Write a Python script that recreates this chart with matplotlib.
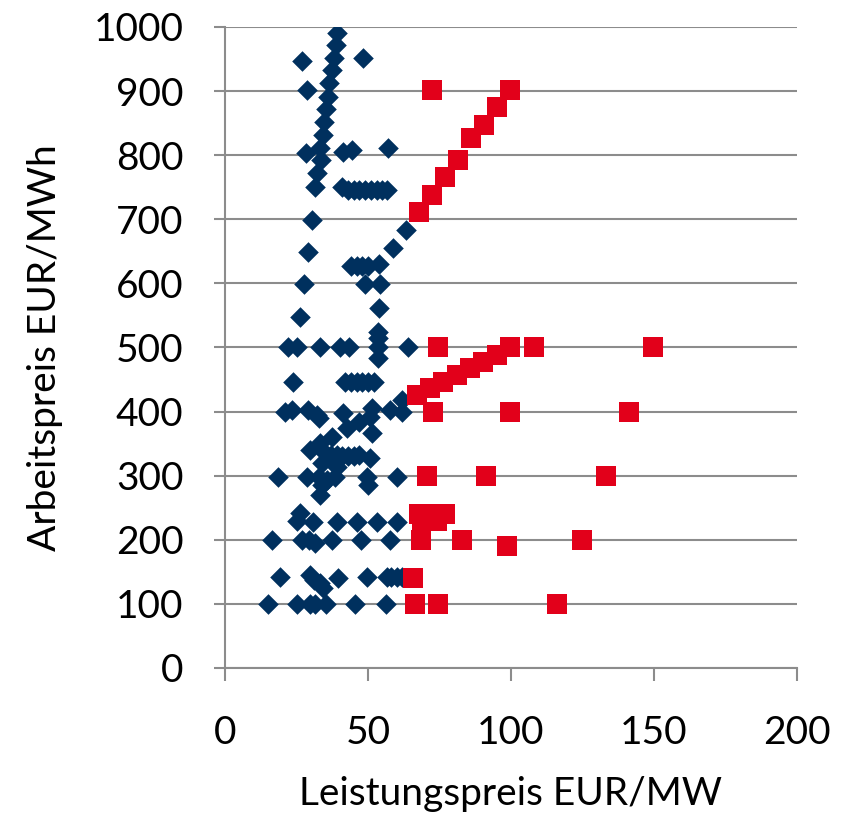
import numpy as np
import matplotlib
matplotlib.use("Agg")
import matplotlib.pyplot as plt

plt.rcParams['font.family'] = ['Lato', 'DejaVu Sans']

# Blaue Rauten (Leistungspreis, Arbeitspreis)
blau_x = [39, 38.8, 38, 37.4, 36.4, 36, 35.3, 34.6, 34.3, 33.2, 33.6, 32.2, 31.5,
          27, 48.3, 28.7, 28.3, 41.3, 44.4, 57,
          41, 43, 45, 47, 49, 51, 53, 55, 56.6,
          30.4, 63.3, 58.7, 29,
          44, 46, 48, 50, 53.8,
          27.6, 49, 54.2, 53.8, 26.2, 53.5,
          22, 25.2, 33.2, 40.2, 43.4, 53.5, 64, 53.5, 53.5,
          23.8, 42, 44, 46, 48, 50, 52,
          21, 23.4, 29, 32, 41.3, 51.4, 57.7, 62, 62,
          33, 37.4, 42.6, 47, 50.7, 51.4, 29.7, 33.2, 35, 37, 39, 41, 43, 45, 47, 50.7, 39, 34,
          18.6, 28.7, 33, 35.6, 38.5, 49.6, 50, 60, 33.2, 34,
          26.2, 25.2, 30.8, 39.2, 46.2, 53.1, 60.1,
          16.6, 27, 29.5, 31.5, 37.4, 47.6, 57.7,
          19.4, 29.7, 31, 33.2, 34.3, 39.5, 49.6, 56.6, 58, 60, 62,
          15, 25.2, 29.7, 31.5, 35.2, 45.5, 56.2]
blau_y = [990, 972, 951, 933, 913, 891, 872, 852, 832, 811, 792, 772, 751,
          947, 951, 902, 803, 805, 808, 811,
          750, 746, 746, 746, 746, 746, 746, 746, 746,
          699, 683, 655, 649,
          627, 627, 627, 627, 631,
          599, 599, 599, 561, 548, 524,
          500, 500, 500, 500, 500, 500, 500, 515, 484,
          446, 446, 446, 446, 446, 446, 446,
          400, 402, 402, 395, 398, 405, 402, 418, 400,
          390, 360, 374, 384, 392, 366, 340, 351, 335, 333, 333, 330, 330, 330, 333, 328, 314, 320,
          298, 298, 298, 293, 298, 298, 286, 298, 270, 285,
          242, 230, 228, 228, 228, 228, 228,
          200, 200, 200, 195, 200, 200, 200,
          142, 145, 138, 133, 125, 140, 142, 142, 142, 142, 142,
          100, 100, 100, 100, 100, 100, 100]

# Rote Quadrate
rot_x = [72.4, 99.7, 95, 90.6, 86, 81.5, 77, 72.4, 68,
         74.5, 99.7, 108, 149.7,
         67, 71.7, 76.3, 81, 85.7, 90.3, 95,
         72.7, 99.7, 141.3,
         70.6, 91.2, 133.2,
         68, 71, 74, 77, 69, 74,
         68.5, 82.9, 98.6, 124.8,
         65.7,
         66.4, 74.5, 116]
rot_y = [902, 902, 875, 847, 827, 792, 766, 738, 711,
         500, 500, 500, 500,
         426, 437, 446, 457, 468, 478, 488,
         400, 400, 400,
         300, 300, 300,
         240, 240, 240, 240, 230, 230,
         200, 200, 190, 200,
         140,
         100, 100, 100]

x_ticks = [0, 50, 100, 150, 200]
y_ticks = [0, 100, 200, 300, 400, 500, 600, 700, 800, 900, 1000]

fig = plt.figure(figsize=(8.5, 8.15), dpi=100)
ax = fig.add_axes([0.2647, 0.1804, 0.9376 - 0.2647, 0.9669 - 0.1804])

ax.scatter(blau_x, blau_y, marker='D', s=110, color='#00305E', linewidths=0, zorder=3)
ax.scatter(rot_x, rot_y, marker='s', s=225, color='#E2001A', linewidths=0, zorder=4)

ax.set_xlim(0, 200)
ax.set_ylim(0, 1000)
ax.set_xticks(x_ticks)
ax.set_yticks(y_ticks)
ax.yaxis.grid(True, color='#8C8C8C', linewidth=1.5)
ax.set_axisbelow(True)

for s in ['top', 'right']:
    ax.spines[s].set_visible(False)
for s in ['left', 'bottom']:
    ax.spines[s].set_color('#8C8C8C')
    ax.spines[s].set_linewidth(1.5)

ax.tick_params(axis='y', length=8, width=1.5, color='#8C8C8C', pad=22, labelsize=28)
ax.tick_params(axis='x', length=9, width=1.5, color='#8C8C8C', pad=25, labelsize=28)

ax.set_xlabel('Leistungspreis EUR/MW', fontsize=28, labelpad=18)
ax.set_ylabel('Arbeitspreis EUR/MWh', fontsize=28, labelpad=22)

fig.savefig('out.png', dpi=100)
